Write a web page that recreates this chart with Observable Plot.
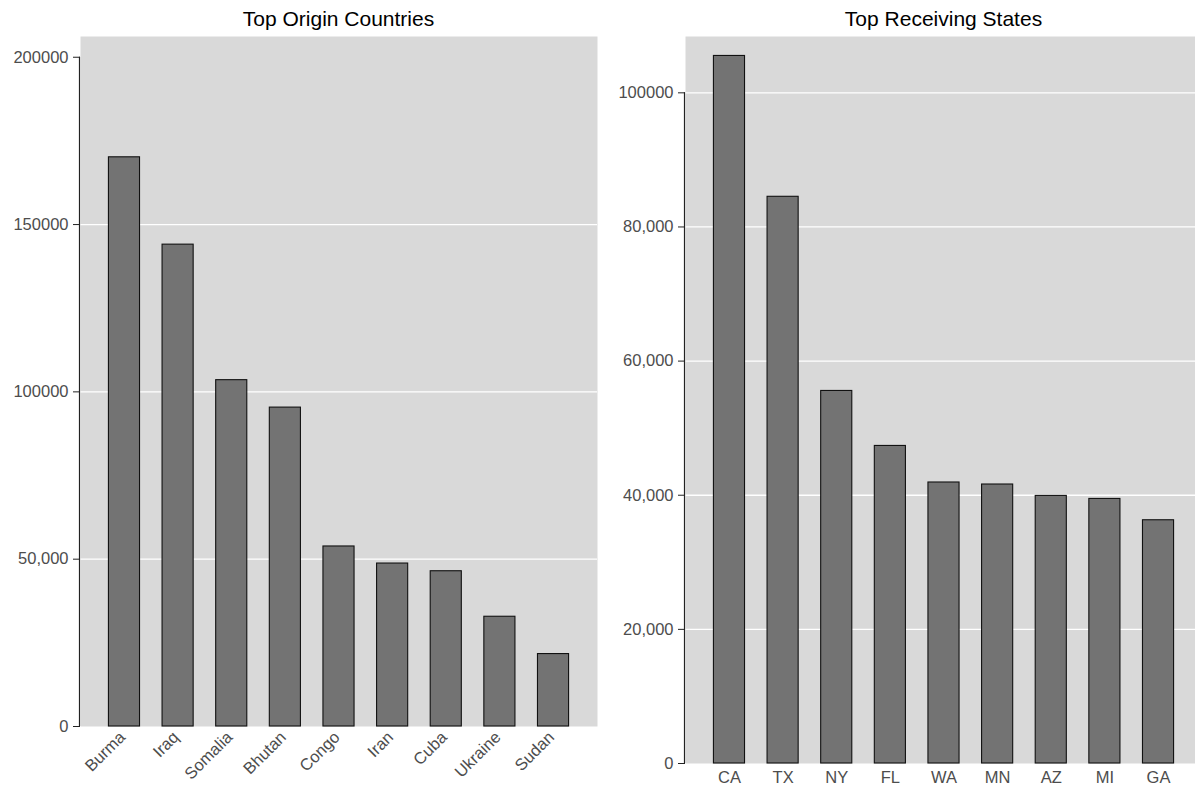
<!DOCTYPE html>
<html>
<head>
<meta charset="utf-8">
<script src="https://cdn.jsdelivr.net/npm/d3@7"></script>
<script src="https://cdn.jsdelivr.net/npm/@observablehq/plot@0.6"></script>
<style>
  html, body { margin: 0; padding: 0; background: #fff; overflow: hidden; width: 1195px; height: 791px; }
  body { position: relative; font-family: "Liberation Sans", Arial, Helvetica, sans-serif; }
  .title { position: absolute; top: 9px; width: 517px; text-align: center; font-size: 21px; line-height: 20px; color: #000; }
  .panel { position: absolute; top: 0; }
  .panel svg { overflow: visible; max-width: none !important; display: block; }
</style>
</head>
<body>
<div class="title" style="left:80px">Top Origin Countries</div>
<div class="title" style="left:685px">Top Receiving States</div>
<div class="panel" id="left" style="left:0px; width:600px"></div>
<div class="panel" id="right" style="left:600px; width:602px"></div>
<script>
// ---- data ----
const countries = ["Burma", "Iraq", "Somalia", "Bhutan", "Congo", "Iran", "Cuba", "Ukraine", "Sudan"];
const countryValues = [170100, 144000, 103500, 95300, 53800, 48700, 46400, 32800, 21650];

const states = ["CA", "TX", "NY", "FL", "WA", "MN", "AZ", "MI", "GA"];
const stateValues = [105500, 84500, 55550, 47350, 41900, 41600, 39900, 39450, 36270];

const leftTicks = [0, 50000, 100000, 150000, 200000];
const leftTickLabels = ["0", "50,000", "100000", "150000", "200000"];
const leftGrid = [50000, 100000, 150000];

const rightTicks = [0, 20000, 40000, 60000, 80000, 100000];
const rightTickLabels = ["0", "20,000", "40,000", "60,000", "80,000", "100000"];
const rightGrid = [20000, 40000, 60000, 80000, 100000];

// ---- helpers ----
const PANEL_BG = "#d9d9d9";
const BAR_FILL = "#737373";
const TEXT_COL = "#4d4d4d";

function axisLine(topValue) {
  return (index, scales, values, dims) => {
    const line = d3.create("svg:line")
      .attr("x1", dims.marginLeft - 0.5)
      .attr("x2", dims.marginLeft - 0.5)
      .attr("y1", scales.y(topValue))
      .attr("y2", scales.y(0))
      .attr("stroke", "#222")
      .attr("stroke-width", 1.2);
    return line.node();
  };
}

function panel({cats, vals, ticks, labels, grid, yMax, width, height, marginLeft, marginRight, marginBottom, rotate}) {
  const data = cats.map((c, i) => ({cat: c, value: vals[i]}));
  return Plot.plot({
    width, height,
    marginTop: 36, marginBottom, marginLeft, marginRight,
    style: {fontFamily: "'Liberation Sans', Arial, Helvetica, sans-serif", fontSize: "16.5px", background: "transparent", maxWidth: "none"},
    x: {domain: cats, paddingInner: 0.42, paddingOuter: 0.53, round: false, label: null},
    y: {domain: [0, yMax], label: null},
    marks: [
      Plot.frame({fill: PANEL_BG, stroke: null}),
      Plot.ruleY(grid, {stroke: "#fff", strokeWidth: 1.3}),
      Plot.barY(data, {x: "cat", y: "value", fill: BAR_FILL, stroke: "#111", strokeWidth: 1.1}),
      axisLine(ticks[ticks.length - 1]),
      Plot.axisY({
        ticks, tickSize: 7, tickPadding: 5,
        tickFormat: d => labels[ticks.indexOf(d)],
        stroke: "#222", fill: TEXT_COL, label: null
      }),
      rotate
        ? Plot.axisX({tickSize: 0, tickPadding: 8, dx: -2, tickRotate: -45, fill: TEXT_COL, label: null})
        : Plot.axisX({tickSize: 0, tickPadding: 8, fill: TEXT_COL, label: null})
    ]
  });
}

document.getElementById("left").append(panel({
  cats: countries, vals: countryValues, ticks: leftTicks, labels: leftTickLabels, grid: leftGrid,
  yMax: 206200, width: 600, height: 791, marginLeft: 80, marginRight: 3, marginBottom: 65, rotate: true
}));

document.getElementById("right").append(panel({
  cats: states, vals: stateValues, ticks: rightTicks, labels: rightTickLabels, grid: rightGrid,
  yMax: 108400, width: 602, height: 791, marginLeft: 85, marginRight: 0, marginBottom: 28, rotate: false
}));
</script>
</body>
</html>
